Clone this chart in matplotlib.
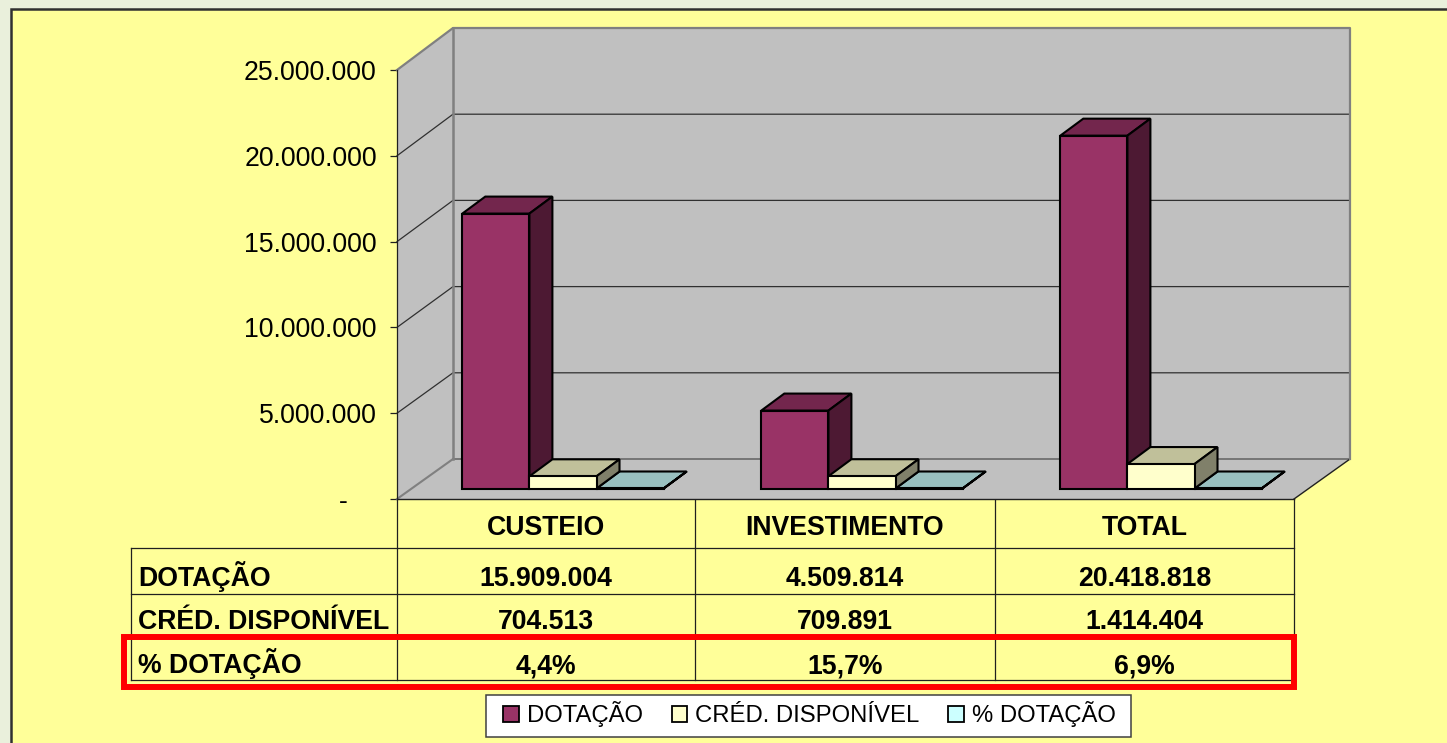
"""Budget chart: faux-3D Excel style columns with a data table underneath."""

import matplotlib

matplotlib.use("Agg")

import matplotlib.pyplot as plt
from matplotlib.patches import Patch, Polygon, Rectangle

W, H = 1447, 743

categories = ["CUSTEIO", "INVESTIMENTO", "TOTAL"]
series_names = ["DOTAÇÃO", "CRÉD. DISPONÍVEL", "% DOTAÇÃO"]
dotacao = [15909004, 4509814, 20418818]
credito = [704513, 709891, 1414404]
pct_dotacao = [0.044, 0.157, 0.069]
y_ticks = [0, 5000000, 10000000, 15000000, 20000000, 25000000]

front_colors = ["#993366", "#FFFFCC", "#CCFFFF"]
top_colors = ["#73264D", "#C0C09A", "#99C0C0"]
side_colors = ["#4D1933", "#80806A", "#668080"]

plt.rcParams["font.family"] = ["Liberation Sans", "DejaVu Sans"]


def fmt_int(v):
    return f"{v:,}".replace(",", ".")


def fmt_pct(v):
    return f"{v * 100:.1f}%".replace(".", ",")


fig = plt.figure(figsize=(W / 100, H / 100), dpi=100, facecolor="#EAF0DC")

# pixel canvas for the frame, the table and the red highlight
bg = fig.add_axes([0, 0, 1, 1], zorder=0)
bg.set_xlim(0, W)
bg.set_ylim(H, 0)
bg.axis("off")
bg.add_patch(Rectangle((10.5, 8.5), W + 20, H, fc="#FFFF99", ec="#303030", lw=1.8))

# front plane of the chart: categories along x, values along y
ax = fig.add_axes([397 / W, 1 - 499 / H, (1294 - 397) / W, (499 - 70) / H], zorder=1)
ax.set_xlim(0, 3)
ax.set_ylim(0, 25000000)
ax.patch.set_alpha(0)
for name in ["top", "right", "bottom"]:
    ax.spines[name].set_visible(False)
ax.spines["left"].set_color("#202020")
ax.spines["left"].set_linewidth(0.9)
ax.set_xticks([])
ax.set_yticks(y_ticks)
ax.set_yticklabels([fmt_int(v) if v else "" for v in y_ticks], fontsize=19.2, color="black")
ax.tick_params(axis="y", length=5, width=0.9, pad=9.5, color="#202020")

px_x = 3 / (1294 - 397)
px_y = 25000000 / (499 - 70)
wall_dx = 56 * px_x
wall_dy = 40 * px_y
wall_scale = 431 / 429
bar_dx = 23 * px_x
bar_dy = 17 * px_y
bar_base = 10.5 * px_y
bar_width = 67.1 * px_x
first_bar = 65.3 * px_x
bar_scale = 1.007

# accounting style dash for zero sits left of the number column
ax.annotate("-", xy=(0, 0), xycoords="data", xytext=(-39, -7), textcoords="offset points",
            fontsize=19.2, ha="center", annotation_clip=False)


def poly(points, fc, ec, lw, z):
    ax.add_patch(Polygon(points, closed=True, fc=fc, ec=ec, lw=lw, zorder=z, clip_on=False,
                         joinstyle="miter"))


def back(v):
    return wall_dy + v * wall_scale


# walls and floor
top_v = y_ticks[-1]
poly([(0, 0), (wall_dx, back(0)), (wall_dx, back(top_v)), (0, top_v)], "#C0C0C0", "none", 0, 1)
poly([(wall_dx, back(0)), (3 + wall_dx, back(0)), (3 + wall_dx, back(top_v)), (wall_dx, back(top_v))],
     "#C0C0C0", "none", 0, 1)
poly([(0, 0), (3, 0), (3 + wall_dx, back(0)), (wall_dx, back(0))], "#C0C0C0", "none", 0, 1)

for v in y_ticks[1:-1]:
    ax.plot([0, wall_dx, 3 + wall_dx], [v, back(v), back(v)], color="#303030", lw=0.9,
            zorder=2, clip_on=False)
ax.plot([wall_dx, 3 + wall_dx], [back(0), back(0)], color="#707070", lw=1.3, zorder=2, clip_on=False)
ax.plot([0, wall_dx], [0, back(0)], color="#808080", lw=1.5, zorder=2, clip_on=False)
ax.plot([3, 3 + wall_dx], [0, back(0)], color="#202020", lw=1.0, zorder=2, clip_on=False)
ax.plot([0, wall_dx, 3 + wall_dx, 3 + wall_dx], [top_v, back(top_v), back(top_v), back(0)],
        color="#808080", lw=1.6, zorder=2, clip_on=False)
ax.plot([wall_dx, wall_dx], [back(0), back(top_v)], color="#808080", lw=1.8, zorder=2, clip_on=False)
ax.plot([0, 3], [0, 0], color="#202020", lw=1.0, zorder=3, clip_on=False)

# columns: credit sits on top of both neighbours, as in the Excel render
series_z = [5, 7, 6]
for s, values in enumerate([dotacao, credito, pct_dotacao]):
    xs = [i + first_bar + s * bar_width for i in range(len(categories))]
    heights = [v * bar_scale for v in values]
    z = series_z[s]
    for x, h in zip(xs, heights):
        y1 = bar_base + h
        x2 = x + bar_width
        poly([(x, y1), (x2, y1), (x2 + bar_dx, y1 + bar_dy), (x + bar_dx, y1 + bar_dy)],
             top_colors[s], "black", 1.5, z)
        poly([(x2, bar_base), (x2 + bar_dx, bar_base + bar_dy), (x2 + bar_dx, y1 + bar_dy), (x2, y1)],
             side_colors[s], "black", 1.5, z)
    ax.bar(xs, heights, width=bar_width, bottom=bar_base, align="edge", color=front_colors[s],
           edgecolor="black", linewidth=1.5, zorder=z + 0.5, clip_on=False)

# data table
col_x = [131, 397, 695, 995, 1294]
row_y = [499, 548, 594, 638, 680]
line = {"color": "#202020", "lw": 0.9}
for x in col_x[1:]:
    bg.plot([x, x], [row_y[0], row_y[-1]], **line)
bg.plot([col_x[0], col_x[0]], [row_y[1], row_y[-1]], **line)
for y in row_y[1:]:
    bg.plot([col_x[0], col_x[-1]], [y, y], **line)

table_font = {"fontsize": 19.2, "fontweight": "bold", "color": "black", "va": "baseline"}
row_base = [586, 629, 673]
for i, cat in enumerate(categories):
    cx = (col_x[i + 1] + col_x[i + 2]) / 2
    bg.text(cx, 535, cat, ha="center", **table_font)
    bg.text(cx, row_base[0], fmt_int(dotacao[i]), ha="center", **table_font)
    bg.text(cx, row_base[1], fmt_int(credito[i]), ha="center", **table_font)
    bg.text(cx, row_base[2], fmt_pct(pct_dotacao[i]), ha="center", **table_font)
for name, y in zip(series_names, row_base):
    bg.text(138, y, name, ha="left", **table_font)

bg.add_patch(Rectangle((124, 637), 1170, 50, fc="none", ec="#FF0000", lw=4.3, zorder=6))

# legend box is drawn apart so its height can be tighter than the legend padding allows
bg.add_patch(Rectangle((486, 695), 645, 42, fc="white", ec="#404040", lw=1.1, zorder=7))
handles = [Patch(fc=c, ec="black", lw=1.3) for c in front_colors]
leg = bg.legend(handles, series_names, loc="center", bbox_to_anchor=(809.5, 714),
                bbox_transform=bg.transData, ncol=3, fontsize=17.2, frameon=False,
                handlelength=0.66, handleheight=0.66, handletextpad=0.33, columnspacing=1.2,
                borderpad=0, borderaxespad=0)
leg.set_zorder(8)

fig.savefig("out.png", dpi=100, facecolor=fig.get_facecolor())
plt.close(fig)
